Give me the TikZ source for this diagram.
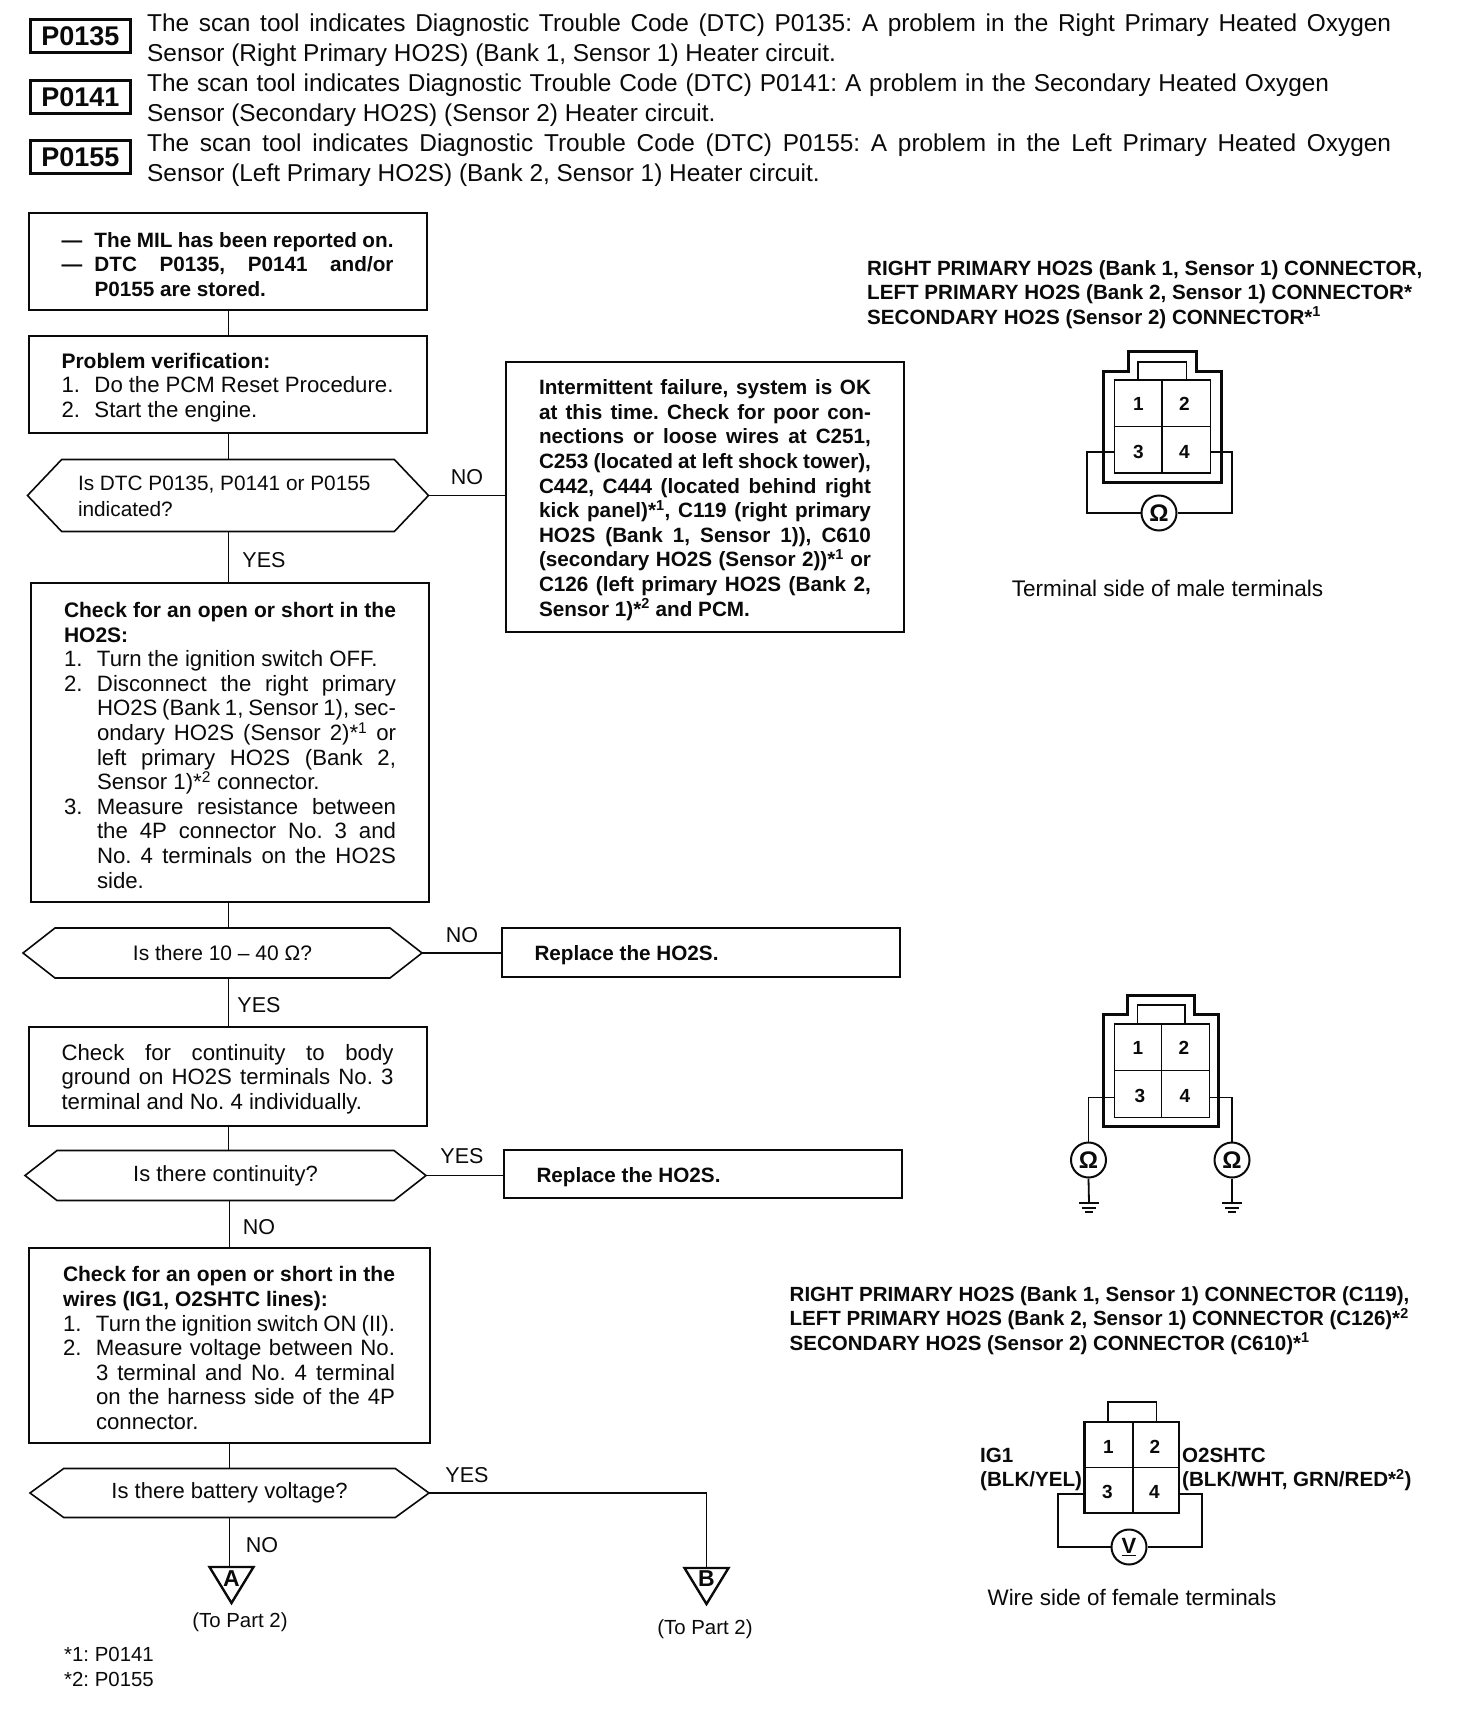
\documentclass[tikz,border=0pt]{standalone}
\usepackage{fontspec}
\setmainfont{Liberation Sans}
\usepackage{xcolor,tikz}
\usetikzlibrary{calc,shapes.symbols}
\definecolor{scanInk}{HTML}{0A0A0A}
\hbadness=10000
\hfuzz=3pt
\frenchspacing
% numbered or dashed item with a hanging first column
\newcommand{\stepitem}[2]{\noindent\hangindent=33pt\hangafter=1\makebox[33pt][l]{#1}#2\par}
% bold first lines of a box
\newcommand{\headtext}[1]{{\fontsize{21}{24.6}\selectfont\bfseries #1\par}}
% three ground bars under a coordinate
\newcommand{\gndbars}[1]{
  \draw[wire] ($(#1)+(-10,0)$) -- ($(#1)+(10,0)$);
  \draw[wire] ($(#1)+(-7,5)$) -- ($(#1)+(7,5)$);
  \draw[wire] ($(#1)+(-4,9)$) -- ($(#1)+(4,9)$);
}
\tikzset{
  code box/.style={
    rectangle, draw=scanInk, line width=2.6pt,
    minimum width=100pt, minimum height=33pt, inner sep=0pt,
    font=\fontsize{27}{30}\selectfont\bfseries,
    anchor=north west,
  },
  code text/.style={
    anchor=north west, inner sep=0pt,
    font=\fontsize{24.4}{30}\selectfont, align=justify,
  },
  flow box/.style={
    rectangle, draw=scanInk, line width=2pt, outer sep=0pt,
    inner xsep=33pt, inner ysep=0pt, text width=332pt,
    font=\fontsize{22.2}{24.6}\selectfont, align=justify,
    anchor=north west,
    execute at begin node=\rule{0pt}{21pt},
  },
  bold box/.style={flow box, font=\fontsize{20.7}{24.6}\selectfont\bfseries},
  flow ask/.style={
    shape=signal, signal to=east and west, signal pointer angle=#1,
    draw=scanInk, line width=1.6pt, inner sep=0pt, outer sep=0pt,
    font=\fontsize{21}{24.6}\selectfont,
  },
  flow tag/.style={font=\fontsize{21.5}{24}\selectfont, inner sep=0pt},
  note text/.style={font=\fontsize{20.6}{24.4}\selectfont\bfseries, anchor=west, align=left, inner sep=0pt},
  side text/.style={font=\fontsize{22.6}{24}\selectfont, inner sep=0pt},
  small text/.style={font=\fontsize{20.4}{24}\selectfont, inner sep=0pt},
  pin text/.style={font=\fontsize{19}{22}\selectfont\bfseries, inner sep=0pt},
  meter/.style={circle, draw=scanInk, line width=2pt, minimum size=35pt, inner sep=0pt, font=\fontsize{24}{24}\selectfont\bfseries},
  wire/.style={draw=scanInk, line width=1.8pt},
  shell/.style={draw=scanInk, line width=3pt},
  flow line/.style={draw=scanInk, line width=1.7pt},
  end tag/.style={draw=scanInk, line width=2.4pt},
}
\begin{document}
\begin{tikzpicture}[x=1pt,y=-1pt,text=scanInk]
\useasboundingbox[fill=white] (0,0) rectangle (1456,1720);

% --- DTC header ---
\node[code box] (p0135) at (29,18) {P0135};
\node[code text, text width=1244pt] (t0135) at (147,14) {The scan tool indicates Diagnostic Trouble Code (DTC) P0135: A problem in the Right Primary Heated Oxygen\linebreak Sensor (Right Primary HO2S) (Bank 1, Sensor 1) Heater circuit.};
\node[code box] (p0141) at (29,79) {P0141};
\node[code text, text width=1182pt] (t0141) at (147,74) {The scan tool indicates Diagnostic Trouble Code (DTC) P0141: A problem in the Secondary Heated Oxygen\linebreak Sensor (Secondary HO2S) (Sensor 2) Heater circuit.};
\node[code box] (p0155) at (29,139) {P0155};
\node[code text, text width=1244pt] (t0155) at (147,134) {The scan tool indicates Diagnostic Trouble Code (DTC) P0155: A problem in the Left Primary Heated Oxygen\linebreak Sensor (Left Primary HO2S) (Bank 2, Sensor 1) Heater circuit.};

% --- main column ---
\coordinate (trunkU) at (228.5,0);
\coordinate (trunkL) at (229.5,0);

\node[bold box, minimum height=97pt] (box1) at (28.5,213) {%
  \stepitem{---}{The MIL has been reported on.}
  \stepitem{---}{DTC P0135, P0141 and/or\linebreak P0155 are stored.}};
\node[flow box, minimum height=97pt] (box2) at (28.5,336) {%
  \headtext{Problem verification:}
  \stepitem{1.}{Do the PCM Reset Procedure.}
  \stepitem{2.}{Start the engine.}};
\node[flow ask=93, minimum width=401pt, minimum height=72pt] (ask1) at (228,495.5) {%
  \parbox{300pt}{\vspace*{2pt}\fontsize{20.8}{25.4}\selectfont Is DTC P0135, P0141 or P0155\\indicated?}};
\node[flow box, minimum height=319pt] (box3) at (31,583) {%
  \headtext{Check for an open or short in the\linebreak HO2S:}
  \stepitem{1.}{Turn the ignition switch OFF.}
  \stepitem{2.}{Disconnect the right primary\linebreak HO2S (Bank 1, Sensor 1), sec-\linebreak ondary HO2S (Sensor 2)*\textsuperscript{1} or\linebreak left primary HO2S (Bank 2,\linebreak Sensor 1)*\textsuperscript{2} connector.}
  \stepitem{3.}{Measure resistance between\linebreak the 4P connector No. 3 and\linebreak No. 4 terminals on the HO2S\linebreak side.}};
\node[flow ask=76, minimum width=399pt, minimum height=50pt] (ask2) at (222.5,953) {Is there 10 -- 40 Ω?};
\node[flow box, minimum height=99pt] (box4) at (28.5,1027) {%
  Check for continuity to body\linebreak ground on HO2S terminals No. 3\linebreak terminal and No. 4 individually.};
\node[flow ask=76, minimum width=401pt, minimum height=50pt, font=\fontsize{22}{24.6}\selectfont] (ask3) at (225.5,1175.5) {Is there continuity?};
\node[flow box, inner xsep=34.5pt, minimum height=195.5pt] (box5) at (28.5,1247.5) {%
  \headtext{Check for an open or short in the\linebreak wires (IG1, O2SHTC lines):}
  \stepitem{1.}{Turn the ignition switch ON (II).}
  \stepitem{2.}{Measure voltage between No.\linebreak 3 terminal and No. 4 terminal\linebreak on the harness side of the 4P\linebreak connector.}};
\node[flow ask=72, minimum width=399pt, minimum height=49pt, font=\fontsize{22}{24.6}\selectfont] (ask4) at (229.5,1493) {Is there battery voltage?};

% --- side boxes ---
\node[bold box, minimum height=270pt] (boxI) at (506,362) {%
  Intermittent failure, system is OK\linebreak at this time. Check for poor con-\linebreak nections or loose wires at C251,\linebreak C253 (located at left shock tower),\linebreak C442, C444 (located behind right\linebreak kick panel)*\textsuperscript{1}, C119 (right primary\linebreak HO2S (Bank 1, Sensor 1)), C610\linebreak (secondary HO2S (Sensor 2))*\textsuperscript{1} or\linebreak C126 (left primary HO2S (Bank 2,\linebreak Sensor 1)*\textsuperscript{2} and PCM.};
\node[bold box, minimum height=49pt] (boxR1) at (501.5,928) {Replace the HO2S.};
\node[bold box, minimum height=48pt] (boxR2) at (503.5,1150) {Replace the HO2S.};

% --- off-page tags ---
\node[font=\fontsize{23}{24}\selectfont\bfseries, inner sep=0pt] (tagA) at (231.5,1579) {A};
\coordinate (tagAtop) at (231.5,1567);
\draw[end tag] ($(tagAtop)+(-22,0)$) -- ($(tagAtop)+(22,0)$) -- ($(tagAtop)+(0,36)$) -- cycle;
\node[font=\fontsize{23}{24}\selectfont\bfseries, inner sep=0pt] (tagB) at (706.5,1579) {B};
\coordinate (tagBtop) at (706.5,1568);
\draw[end tag] ($(tagBtop)+(-22,0)$) -- ($(tagBtop)+(22,0)$) -- ($(tagBtop)+(0,36)$) -- cycle;
\node[small text] (partA) at (240,1622) {(To Part 2)};
\node[small text] (partB) at (705,1629) {(To Part 2)};
\node[small text, anchor=west] (star1) at (64,1654.5) {*1: P0141};
\node[small text, anchor=west] (star2) at (64,1679) {*2: P0155};

% --- connectors ---
\draw[flow line] (trunkU |- box1.south) -- (trunkU |- box2.north);
\draw[flow line] (trunkU |- box2.south) -- (trunkU |- ask1.north);
\draw[flow line] (trunkU |- ask1.south) -- (trunkU |- box3.north);
\draw[flow line] (trunkU |- box3.south) -- (trunkU |- ask2.north);
\draw[flow line] (trunkU |- ask2.south) -- (trunkU |- box4.north);
\draw[flow line] (trunkU |- box4.south) -- (trunkU |- ask3.north);
\draw[flow line] (trunkL |- ask3.south) -- (trunkL |- box5.north);
\draw[flow line] (trunkL |- box5.south) -- (trunkL |- ask4.north);
\draw[flow line] (trunkL |- ask4.south) -- (trunkL |- tagAtop);
\draw[flow line] (ask1.east) -- (ask1.east -| boxI.west);
\draw[flow line] (ask2.east) -- (ask2.east -| boxR1.west);
\draw[flow line] (ask3.east) -- (ask3.east -| boxR2.west);
\draw[flow line] (ask4.east) -| (tagBtop);

% --- branch labels ---
\node[flow tag] (no1) at (467,477) {NO};
\node[flow tag] (yes1) at (264,560) {YES};
\node[flow tag] (no2) at (462,935) {NO};
\node[flow tag] (yes2) at (259,1005) {YES};
\node[flow tag] (yes3) at (462,1156) {YES};
\node[flow tag] (no3) at (259,1227) {NO};
\node[flow tag] (yes4) at (467,1475) {YES};
\node[flow tag] (no4) at (262,1545) {NO};

% --- connector 1: terminal side, one meter ---
\node[note text] (head1) at (867,294.5) {RIGHT PRIMARY HO2S (Bank 1, Sensor 1) CONNECTOR,\\LEFT PRIMARY HO2S (Bank 2, Sensor 1) CONNECTOR*\\SECONDARY HO2S (Sensor 2) CONNECTOR*\textsuperscript{1}};
\draw[shell] (1103.5,482.5) -- (1103.5,371) -- (1128,371) -- (1128,351) -- (1196,351) -- (1196,371) -- (1221,371) -- (1221,482.5) -- cycle;
\draw[wire] (1114.5,380) rectangle (1210.5,473);
\draw[wire] (1138,380) -- (1138,362) -- (1186.5,362) -- (1186.5,380);
\draw[wire] (1162,380) -- (1162,473);
\draw[wire] (1114.5,426.5) -- (1210.5,426.5);
\node[pin text] (a1) at (1138.5,404) {1};
\node[pin text] (a2) at (1184.5,404) {2};
\node[pin text] (a3) at (1138.5,452) {3};
\node[pin text] (a4) at (1184.5,452) {4};
\node[meter] (ohmA) at (1159,513) {Ω};
\coordinate (a3end) at (1114.5,452);
\coordinate (a4end) at (1210.5,452);
\draw[wire] (a3end) -- (1087,452) |- (ohmA.west);
\draw[wire] (a4end) -- (1232,452) |- (ohmA.east);
\node[side text] (cap1) at (1167.5,588) {Terminal side of male terminals};

% --- connector 2: terminal side, two meters to ground ---
\draw[shell] (1103.5,1126.5) -- (1103.5,1014) -- (1127.5,1014) -- (1127.5,995) -- (1194.5,995) -- (1194.5,1014) -- (1218.5,1014) -- (1218.5,1126.5) -- cycle;
\draw[wire] (1114.5,1024) rectangle (1209.5,1117.5);
\draw[wire] (1137.5,1024) -- (1137.5,1005) -- (1185,1005) -- (1185,1024);
\draw[wire] (1161.5,1024) -- (1161.5,1117.5);
\draw[wire] (1114.5,1070.5) -- (1209.5,1070.5);
\node[pin text] (b1) at (1138,1048) {1};
\node[pin text] (b2) at (1184,1048) {2};
\node[pin text] (b3) at (1140,1096) {3};
\node[pin text] (b4) at (1185,1096) {4};
\node[meter] (ohmB) at (1088.5,1160) {Ω};
\node[meter] (ohmC) at (1232,1160) {Ω};
\coordinate (b3end) at (1114.5,1097.5);
\coordinate (b4end) at (1209.5,1097.5);
\coordinate (gndB) at (1089,1203);
\coordinate (gndC) at (1232,1203);
\draw[wire] (b3end) -| (ohmB.north);
\draw[wire] (b4end) -| (ohmC.north);
\draw[wire] (ohmB.south) -- (gndB);
\draw[wire] (ohmC.south) -- (gndC);
\gndbars{gndB}
\gndbars{gndC}

% --- connector 3: wire side, voltmeter ---
\node[note text, font=\fontsize{20.5}{24.4}\selectfont\bfseries] (head3) at (789.5,1320.5) {RIGHT PRIMARY HO2S (Bank 1, Sensor 1) CONNECTOR (C119),\\LEFT PRIMARY HO2S (Bank 2, Sensor 1) CONNECTOR (C126)*\textsuperscript{2}\\SECONDARY HO2S (Sensor 2) CONNECTOR (C610)*\textsuperscript{1}};
\draw[shell, line width=2.4pt] (1084.5,1422) rectangle (1179,1513);
\draw[wire] (1108,1422) -- (1108,1402) -- (1156.5,1402) -- (1156.5,1422);
\draw[wire] (1133,1422) -- (1133,1513);
\draw[wire] (1084.5,1467.5) -- (1179,1467.5);
\node[pin text] (c1) at (1108.5,1447) {1};
\node[pin text] (c2) at (1155,1447) {2};
\node[pin text] (c3) at (1107.5,1492) {3};
\node[pin text] (c4) at (1154.5,1492) {4};
\node[meter, font=\fontsize{22}{24}\selectfont\bfseries] (voltV) at (1129,1547) {\underline{V}};
\coordinate (c3end) at (1084.5,1494);
\coordinate (c4end) at (1179,1494);
\draw[wire] (c3end) -- (1058,1494) |- (voltV.west);
\draw[wire] (c4end) -- (1202,1494) |- (voltV.east);
\node[note text] (ig1) at (980,1469.5) {IG1\\(BLK/YEL)};
\node[note text] (o2s) at (1182,1469.5) {O2SHTC\\(BLK/WHT, GRN/RED*\textsuperscript{2})};
\node[side text, font=\fontsize{22.4}{24}\selectfont] (cap3) at (1132,1597) {Wire side of female terminals};

\end{tikzpicture}
\end{document}
